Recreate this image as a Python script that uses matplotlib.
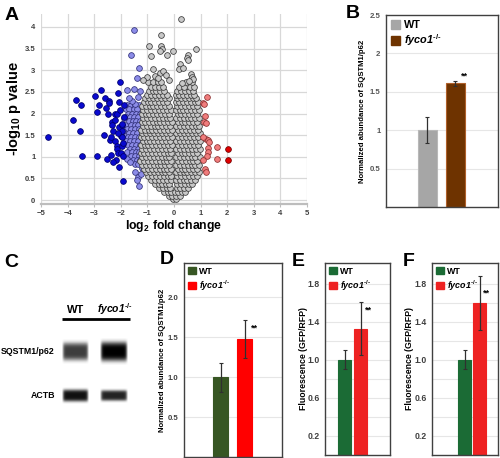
import numpy as np
import matplotlib
matplotlib.use("Agg")
import matplotlib.pyplot as plt
from matplotlib.patches import Patch

plt.rcParams['font.family'] = ['Liberation Sans', 'DejaVu Sans']
plt.rcParams['mathtext.fontset'] = 'custom'
plt.rcParams['mathtext.rm'] = 'Liberation Sans:bold'
plt.rcParams['mathtext.it'] = 'Liberation Sans:italic:bold'
plt.rcParams['mathtext.bf'] = 'Liberation Sans:bold'
plt.rcParams['mathtext.default'] = 'rm'

# ---------------- panel A: volcano data (log2 FC, -log10 p) ----------------
gray_row_y = [0.02, 0.10, 0.19, 0.28, 0.37, 0.46, 0.55, 0.64, 0.73, 0.82, 0.91, 1.00,
              1.09, 1.18, 1.27, 1.36, 1.45, 1.54, 1.63, 1.72, 1.81, 1.90, 1.99, 2.08,
              2.17, 2.26, 2.35, 2.44, 2.53, 2.62, 2.72]
gray_row_x = [
    [-0.02, 0.06],
    [-0.2, -0.07, 0.08, 0.22],
    [-0.38, -0.24, -0.11, 0.03, 0.16, 0.3, 0.43],
    [-0.55, -0.41, -0.27, -0.14, 0.1, 0.24, 0.37, 0.52],
    [-0.72, -0.58, -0.44, -0.3, -0.17, 0.12, 0.26, 0.4, 0.55, 0.68],
    [-0.85, -0.7, -0.56, -0.42, -0.27, -0.13, 0.09, 0.23, 0.37, 0.5, 0.64, 0.78],
    [-0.97, -0.83, -0.68, -0.53, -0.39, -0.24, -0.1, 0.12, 0.27, 0.41, 0.56, 0.7, 0.86],
    [-1.05, -0.9, -0.76, -0.61, -0.46, -0.32, -0.18, 0.09, 0.22, 0.36, 0.5, 0.65, 0.8, 0.93],
    [-1.12, -0.98, -0.83, -0.68, -0.54, -0.39, -0.25, -0.11, 0.14, 0.29, 0.43, 0.58, 0.72, 0.88],
    [-1.2, -1.05, -0.9, -0.76, -0.61, -0.47, -0.32, -0.17, 0.08, 0.22, 0.36, 0.51, 0.66, 0.8, 0.95],
    [-1.26, -1.12, -0.97, -0.83, -0.68, -0.54, -0.39, -0.25, -0.1, 0.14, 0.29, 0.44, 0.59, 0.73, 0.88],
    [-1.19, -1.04, -0.9, -0.75, -0.61, -0.46, -0.31, -0.17, 0.08, 0.21, 0.36, 0.51, 0.66, 0.8, 0.96],
    [-1.25, -1.11, -0.97, -0.82, -0.68, -0.53, -0.38, -0.24, -0.1, 0.14, 0.29, 0.43, 0.58, 0.73, 0.87],
    [-1.2, -1.05, -0.9, -0.75, -0.6, -0.46, -0.31, -0.16, 0.08, 0.22, 0.37, 0.51, 0.66, 0.81, 0.97],
    [-1.24, -1.1, -0.96, -0.82, -0.67, -0.53, -0.38, -0.23, -0.09, 0.15, 0.3, 0.44, 0.59, 0.74, 0.89],
    [-1.18, -1.03, -0.89, -0.74, -0.6, -0.45, -0.3, -0.15, 0.09, 0.23, 0.37, 0.52, 0.67, 0.82, 0.96],
    [-1.25, -1.11, -0.96, -0.81, -0.67, -0.52, -0.37, -0.22, -0.08, 0.15, 0.3, 0.45, 0.6, 0.74, 0.9],
    [-1.19, -1.04, -0.89, -0.74, -0.59, -0.44, -0.3, -0.15, 0.08, 0.22, 0.37, 0.52, 0.67, 0.82, 0.97],
    [-1.23, -1.09, -0.95, -0.81, -0.66, -0.51, -0.37, -0.22, -0.08, 0.15, 0.29, 0.44, 0.59, 0.74, 0.89],
    [-1.17, -1.02, -0.88, -0.73, -0.59, -0.44, -0.29, -0.15, 0.08, 0.22, 0.37, 0.52, 0.66, 0.81, 0.95],
    [-1.22, -1.08, -0.94, -0.8, -0.65, -0.51, -0.36, -0.21, -0.07, 0.14, 0.29, 0.43, 0.58, 0.73, 0.88],
    [-1.16, -1.01, -0.87, -0.72, -0.58, -0.43, -0.28, -0.14, 0.08, 0.21, 0.36, 0.51, 0.65, 0.8, 0.94],
    [-1.21, -1.07, -0.93, -0.79, -0.64, -0.5, -0.35, -0.2, 0.14, 0.28, 0.43, 0.58, 0.72, 0.87],
    [-1.15, -1.0, -0.86, -0.71, -0.57, -0.42, -0.27, -0.13, 0.07, 0.21, 0.35, 0.5, 0.64, 0.79, 0.93],
    [-1.2, -1.06, -0.92, -0.78, -0.63, -0.49, -0.34, -0.19, 0.13, 0.27, 0.42, 0.56, 0.71, 0.86],
    [-1.13, -0.99, -0.85, -0.7, -0.56, -0.41, -0.27, 0.07, 0.2, 0.34, 0.49, 0.63, 0.78, 0.92],
    [-1.08, -0.93, -0.78, -0.64, -0.49, -0.35, -0.2, 0.12, 0.27, 0.41, 0.56, 0.7, 0.84],
    [-1.02, -0.87, -0.72, -0.57, -0.43, -0.28, 0.06, 0.19, 0.34, 0.48, 0.63, 0.77],
    [-0.95, -0.8, -0.66, -0.51, -0.36, 0.12, 0.27, 0.42, 0.57, 0.72],
    [-0.88, -0.72, -0.58, -0.43, 0.2, 0.36, 0.6, 0.74],
    [-0.96, -0.78, -0.62, -0.48, 0.45, 0.67],
]
gray_out_x = [0.26, -0.49, -0.94, -0.48, -0.45, -0.52, -0.28, -0.05, -0.86, 0.83, 0.54, 0.48,
              0.51, 0.23, 0.2, 0.33, 0.63, 0.66, -0.8, -0.53, -0.4, -1.03, -0.7, -0.3, -0.62,
              -0.2, 0.72, 0.3, 0.55, -1.15]
gray_out_y = [4.18, 3.82, 3.56, 3.55, 3.5, 3.44, 3.36, 3.45, 3.32, 3.48, 3.35, 3.28,
              3.24, 3.14, 3.02, 3.06, 2.92, 2.85, 3.02, 2.94, 2.98, 2.85, 2.87, 2.9, 2.82,
              2.78, 2.8, 2.7, 2.75, 2.78]

lblue_row_y = [2.2, 2.1, 2.0, 1.91, 1.82, 1.73, 1.64, 1.55, 1.46, 1.37, 1.28, 1.19,
               1.1, 1.01, 0.92, 0.83]
lblue_row_x = [
    [-1.75, -1.6, -1.45, -1.3],
    [-1.82, -1.68, -1.52, -1.38],
    [-1.72, -1.58, -1.44, -1.29],
    [-1.8, -1.65, -1.5, -1.36],
    [-1.7, -1.55, -1.41, -1.27],
    [-1.83, -1.63, -1.48, -1.34],
    [-1.76, -1.6, -1.45, -1.3],
    [-1.85, -1.68, -1.53, -1.38],
    [-1.74, -1.6, -1.45, -1.3],
    [-1.8, -1.66, -1.52, -1.37],
    [-1.72, -1.57, -1.43, -1.29],
    [-1.65, -1.5, -1.35],
    [-1.78, -1.58, -1.43, -1.3],
    [-1.62, -1.47, -1.33],
    [-1.55, -1.4, -1.28],
    [-1.48, -1.34],
]
lblue_out_x = [-1.78, -1.66, -1.46, -1.34, -1.4, -1.31, -1.25, -1.2, -1.51, -1.63, -1.31,
               -1.4, -1.78, -1.51, -1.26, -1.46, -1.58, -1.35, -1.9, -1.92, -1.88, -1.7]
lblue_out_y = [0.96, 0.88, 0.65, 0.54, 0.46, 0.32, 0.6, 0.75, 3.92, 3.36, 3.06,
               2.82, 2.55, 2.56, 2.53, 2.23, 2.3, 2.38, 1.6, 1.3, 1.9, 2.35]

dblue_x = [-4.74, -3.81, -3.69, -3.48, -3.55, -3.44, -2.98, -2.88, -2.81, -2.74, -2.88,
           -2.65, -2.59, -2.55, -2.46, -2.44, -2.5, -2.53, -2.4, -2.38, -2.34, -2.28,
           -2.21, -2.16, -2.21, -2.2, -2.15, -2.13, -2.12, -2.05, -2.05, -2.07, -2.02,
           -2.0, -1.96, -1.94, -1.9, -2.09, -2.19, -1.95, -1.88, -2.02, -1.94, -1.88,
           -2.0, -1.92, -2.3, -2.33, -2.36, -1.97, -1.93, -2.1]
dblue_y = [1.46, 1.86, 2.32, 2.2, 1.6, 1.02, 2.4, 2.04, 2.19, 2.54, 1.03,
           1.51, 2.35, 2.13, 2.29, 2.25, 1.98, 0.95, 1.38, 1.04, 1.81, 1.6,
           1.98, 1.99, 1.86, 1.37, 1.25, 1.19, 2.48, 2.27, 1.69, 0.77, 2.73,
           1.48, 1.46, 1.73, 0.45, 1.08, 0.92, 1.25, 2.19, 2.08, 1.6, 1.92,
           1.08, 1.02, 0.87, 1.74, 1.45, 1.76, 1.33, 1.55]

pink_x = [1.23, 1.08, 1.12, 1.16, 1.14, 1.22, 1.2, 1.26, 1.3, 1.29, 1.26, 1.24,
          1.62, 1.62, 1.08, 1.16, 1.2, 1.1]
pink_y = [2.38, 2.25, 2.22, 1.94, 1.81, 1.79, 1.42, 1.38, 1.34, 1.21, 1.12, 1.02,
          1.23, 0.94, 0.93, 0.73, 0.65, 1.45]
red_x = [2.02, 2.02]
red_y = [1.18, 0.92]

# ---------------- bar panels ----------------
groups = ['WT', 'fyco1$^{\\text{-/-}}$']
b_vals, b_errs = [1.0, 1.61], [0.17, 0.035]
d_vals, d_errs = [1.0, 1.48], [0.18, 0.24]
e_vals, e_errs = [1.0, 1.33], [0.10, 0.28]
f_vals, f_errs = [1.0, 1.60], [0.10, 0.28]

# ---------------- panel C: blot band intensities (rows x lanes) ----------------
blot_rows = ['SQSTM1/p62', 'ACTB']
blot_lanes = ['WT', 'fyco1$^{\\text{-/-}}$']
band_intensity = [[0.76, 1.0], [0.93, 0.86]]


def box(l, t, r, b):
    return [l / 500, 1 - b / 458, (r - l) / 500, (b - t) / 458]


fig = plt.figure(figsize=(5, 4.58), dpi=100)

# ---- A ----
ax = fig.add_axes(box(41, 14, 307, 204))
gx = [x for row in gray_row_x for x in row] + gray_out_x
gy = [y for y, row in zip(gray_row_y, gray_row_x) for _ in row] + gray_out_y
lx = [x for row in lblue_row_x for x in row] + lblue_out_x
ly = [y for y, row in zip(lblue_row_y, lblue_row_x) for _ in row] + lblue_out_y
kw = dict(s=17, linewidths=0.55, zorder=3)
ax.scatter(lx, ly, c='#8C8CE8', edgecolors='#30307A', **kw)
ax.scatter(gx, gy, c='#C8C8C8', edgecolors='#3A3A3A', **kw)
ax.scatter(dblue_x, dblue_y, c='#0A0ACF', edgecolors='#00006A', **kw)
ax.scatter(pink_x, pink_y, c='#F07C7C', edgecolors='#8A3030', **kw)
ax.scatter(red_x, red_y, c='#E00000', edgecolors='#700000', **kw)
ax.set_xlim(-5, 5)
ax.set_ylim(-0.09, 4.3)
ax.set_xticks(range(-5, 6))
ax.set_yticks(np.arange(0, 4.01, 0.5))
ax.set_yticklabels(['0', '0.5', '1', '1.5', '2', '2.5', '3', '3.5', '4'])
ax.grid(True, color='#D8D8D8', lw=0.9, zorder=0)
ax.set_axisbelow(True)
for s in ['top', 'right', 'left']:
    ax.spines[s].set_visible(False)
ax.spines['bottom'].set_color('#BDBDBD')
ax.spines['bottom'].set_linewidth(1.6)
ax.tick_params(axis='x', length=2.5, color='#BDBDBD', pad=1.5, labelsize=5.5, labelcolor='#404040')
ax.tick_params(axis='y', length=0, pad=4, labelsize=5.5, labelcolor='#404040')
for t in ax.get_xticklabels() + ax.get_yticklabels():
    t.set_fontweight('bold')
ax.set_xlabel('log$_{2}$ fold change', fontsize=8.8, fontweight='bold')
ax.xaxis.set_label_coords(0.5, -0.075)
ax.set_ylabel('-log$_{10}$ p value', fontsize=10.5, fontweight='bold')
ax.yaxis.set_label_coords(-0.066, 0.5)

# ---- bar panel helper ----
def bar_panel(rect, vals, errs, colors, edges, xlim, ylim, width, ticks, labels,
              grid, star, ylabel, ylabel_x, tsize, lsize, legsize, tcolor):
    a = fig.add_axes(box(*rect))
    a.bar([0, 1], vals, width=width, color=colors, edgecolor=edges, linewidth=0.8, zorder=2)
    a.errorbar([0, 1], vals, yerr=errs, fmt='none', ecolor='#303030', elinewidth=0.9,
               capsize=1.5, capthick=0.8, zorder=3)
    a.text(star[0], star[1], '**', fontsize=6.5, fontweight='bold', ha='center', va='center')
    a.set_xlim(*xlim)
    a.set_ylim(*ylim)
    a.set_xticks([])
    a.set_yticks(ticks)
    a.set_yticklabels(labels)
    for g in grid:
        a.axhline(g, color='#E6E6E6', lw=0.8, zorder=0)
    for s in a.spines.values():
        s.set_color('#404040')
        s.set_linewidth(1.0)
    a.tick_params(axis='y', length=0, pad=4, labelsize=tsize, labelcolor=tcolor)
    for t in a.get_yticklabels():
        t.set_fontweight('bold')
    fig.text(ylabel_x / 500, 1 - (rect[1] + rect[3]) / 2 / 458, ylabel, rotation=90,
             ha='center', va='center', fontsize=lsize, fontweight='bold')
    hs = [Patch(facecolor=colors[0], edgecolor=colors[0]),
          Patch(facecolor=colors[1], edgecolor=colors[1])]
    leg = a.legend(hs, groups, loc='upper left', frameon=False,
                   handlelength=0.85, handleheight=0.85, handletextpad=0.35,
                   labelspacing=0.25, borderaxespad=0.25, borderpad=0.2,
                   prop={'weight': 'bold', 'size': legsize})
    leg.get_texts()[1].set_fontstyle('italic')
    return a


bar_panel((386, 15, 498, 207), b_vals, b_errs, ['#A6A6A6', '#6E3300'], ['#B8B8B8', '#B0602A'],
          (-1.48, 2.52), (0, 2.5), 0.66, [0.5, 1, 1.5, 2, 2.5], ['0.5', '1', '1.5', '2', '2.5'],
          [0.5, 1, 1.5, 2], (1.32, 1.7), 'Normalized abundance of SQSTM1/p62', 363,
          5.6, 5.6, 7.8, '#555555')

bar_panel((184, 263, 282, 457), d_vals, d_errs, ['#375623', '#FF0000'], ['#375623', '#FF0000'],
          (-1.52, 2.56), (0, 2.43), 0.63, [0.5, 1.0, 1.5, 2.0], ['0.5', '1.0', '1.5', '2.0'],
          [0.5, 1.0, 1.5, 2.0], (1.4, 1.61), 'Normalized abundance of SQSTM1/p62', 163,
          5.6, 5.6, 6.4, '#404040')

ef_ticks = [0.2, 0.6, 1.0, 1.4, 1.8]
ef_labels = ['0.2', '0.6', '1.0', '1.4', '1.8']
ef_grid = [0.2, 0.4, 0.6, 0.8, 1.0, 1.2, 1.4, 1.6, 1.8]
bar_panel((325, 263, 390, 455), e_vals, e_errs, ['#1B6B35', '#EE2222'], ['#1B6B35', '#EE2222'],
          (-1.22, 2.84), (0, 2.02), 0.81, ef_ticks, ef_labels, ef_grid, (1.47, 1.52),
          'Fluorescence (GFP/RFP)', 303, 6.2, 6.3, 6.4, '#404040')

bar_panel((432, 263, 498, 455), f_vals, f_errs, ['#1B6B35', '#EE2222'], ['#1B6B35', '#EE2222'],
          (-2.17, 2.23), (0, 2.02), 0.87, ef_ticks, ef_labels, ef_grid, (1.43, 1.7),
          'Fluorescence (GFP/RFP)', 410, 6.2, 6.3, 6.4, '#404040')

# ---- C: blot ----
axc = fig.add_axes(box(0, 280, 160, 458))
axc.axis('off')
lane_x = [75.5, 113.5]
lane_w = [25, 26]
row_y = [352, 396]
row_h = [[18, 20], [12, 11]]
xx = np.linspace(-1, 1, 80)
yy = np.linspace(-1, 1, 40)
prof = np.exp(-np.abs(yy / 0.72) ** 4)[:, None] * np.exp(-np.abs(xx / 0.94) ** 14)[None, :]
for i, rname in enumerate(blot_rows):
    axc.text(55, row_y[i], rname, ha='right', va='center', fontsize=6.3, fontweight='bold')
    for j in range(len(blot_lanes)):
        w = lane_w[j] * 1.06
        h = row_h[i][j] * 1.35
        axc.imshow(band_intensity[i][j] * prof, cmap='gray_r', vmin=0, vmax=1, aspect='auto',
                   interpolation='bilinear',
                   extent=(lane_x[j] - w / 2, lane_x[j] + w / 2, row_y[i] + h / 2, row_y[i] - h / 2))
axc.set_xlim(0, 160)
axc.set_ylim(458, 280)
axc.text(lane_x[0], 313, blot_lanes[0], ha='center', va='baseline', fontsize=8, fontweight='bold')
axc.text(lane_x[1] + 1, 313, blot_lanes[1], ha='center', va='baseline', fontsize=7.5,
         fontweight='bold', fontstyle='italic')
axc.plot([62, 130], [319, 319], color='black', lw=2, solid_capstyle='butt')

# ---- panel letters ----
for letter, x, y in [('A', 5, 20), ('B', 346, 18), ('C', 4, 267), ('D', 160, 264),
                     ('E', 292, 266), ('F', 403, 266)]:
    fig.text(x / 500, 1 - y / 458, letter, fontsize=14, fontweight='bold', ha='left', va='baseline')

fig.savefig('out.png', dpi=100)
